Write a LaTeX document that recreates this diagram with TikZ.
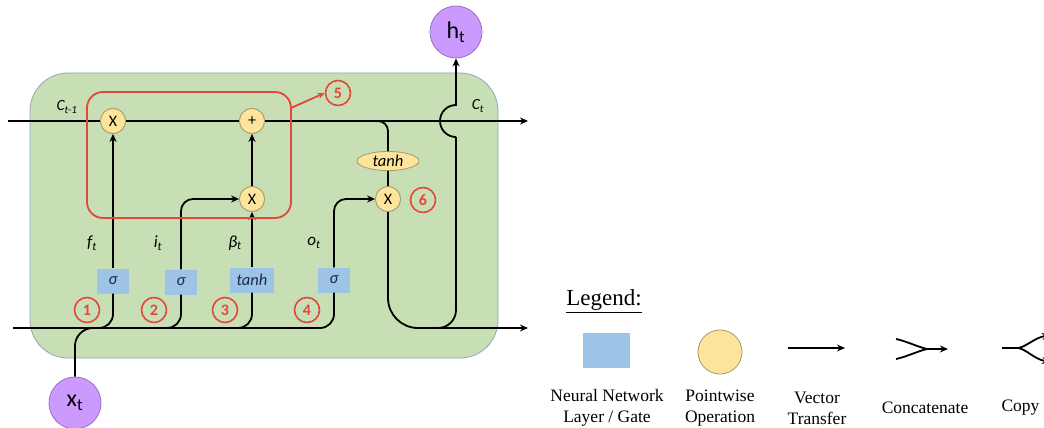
\documentclass[tikz,border=0pt]{standalone}
\usepackage{fontspec}
\setmainfont{Carlito}
\newfontfamily\legfont{Liberation Serif}
\usetikzlibrary{arrows.meta,shapes.geometric}
\definecolor{cellgreen}{HTML}{C8DFB5}
\definecolor{cellborder}{HTML}{8FA6BF}
\definecolor{pwyellow}{HTML}{FDE59B}
\definecolor{pwborder}{HTML}{A8996E}
\definecolor{gateblue}{HTML}{9DC3E6}
\definecolor{navy}{HTML}{1E2A44}
\definecolor{numred}{HTML}{E2483A}
\definecolor{iopurple}{HTML}{CC99FF}
\definecolor{ioborder}{HTML}{9470C4}
\tikzset{
  cellbox/.style={draw=cellborder, fill=cellgreen, line width=0.8pt, rounded corners=38pt, inner sep=0pt},
  pw/.style={circle, draw=pwborder, fill=pwyellow, line width=0.8pt, minimum size=25pt, inner sep=0pt, font=\fontsize{16}{16}\selectfont},
  pwell/.style={ellipse, draw=pwborder, fill=pwyellow, line width=0.8pt, minimum width=62pt, minimum height=19pt, inner sep=0pt, font=\fontsize{16.5}{16.5}\selectfont\itshape},
  gate/.style={rectangle, fill=gateblue, minimum height=25pt, inner sep=0pt, text=navy, font=\fontsize{16.5}{16.5}\selectfont\itshape},
  num/.style={circle, draw=numred, line width=1.6pt, minimum size=25pt, inner sep=0pt, text=numred, font=\fontsize{16}{16}\selectfont\bfseries},
  io/.style={circle, draw=ioborder, fill=iopurple, line width=0.8pt, minimum size=52pt, inner sep=0pt, font=\fontsize{24}{24}\selectfont},
  lbl/.style={font=\fontsize{17}{17}\selectfont\itshape},
  leg/.style={font=\legfont\fontsize{17.5}{21}\selectfont, align=center},
  wire/.style={line width=1.8pt, draw=black},
  redwire/.style={line width=1.8pt, draw=numred},
}
\begin{document}
\begin{tikzpicture}[x=1pt,y=-1pt, >={Stealth[length=8pt,width=7pt]}]
\useasboundingbox (0,0) rectangle (1044,428);
\clip (0,0) rectangle (1044,428);

% cell background
\node[cellbox, minimum width=468pt, minimum height=285pt] (cell) at (264,215.5) {};

% named free ends
\coordinate (cin) at (8,121);
\coordinate (cout) at (528,121);
\coordinate (bin) at (13,328);
\coordinate (bout) at (528,328);
\coordinate (tap) at (370,121);
\coordinate (b1) at (95,328);
\coordinate (b2) at (163,328);
\coordinate (b3) at (234,328);
\coordinate (xb) at (104,328);
\coordinate (ub) at (425,328);
\coordinate (jb) at (456,137);
\coordinate (r5) at (291,108);

% nodes
\node[pw] (m1) at (113,121) {X};
\node[pw] (pl) at (252,121) {+};
\node[pw] (m2) at (252,199) {X};
\node[pw] (m6) at (388,199) {X};
\node[pwell] (th) at (388,161) {tanh};

\node[gate, minimum width=32pt] (g1) at (113,281) {σ};
\node[gate, minimum width=32pt] (g2) at (181,282) {σ};
\node[gate, minimum width=44pt] (g3) at (252,280) {tanh};
\node[gate, minimum width=32pt] (g4) at (334,280) {σ};

\node[io] (ht) at (456,32) {h\textsubscript{t}};
\node[io] (xt) at (75,403) {x\textsubscript{t}};

% wires
\draw[wire,->] (cin) -- (m1) -- (pl) -- (cout);
\draw[wire, rounded corners=10pt] (tap) -| (th.north);
\draw[wire] (th.south) -- (m6.north);
\draw[wire,->] (g1.north) -- (m1.south);
\draw[wire,->, rounded corners=12pt] (g2.north) |- (m2.west);
\draw[wire,->] (g3.north) -- (m2.south);
\draw[wire,->] (m2.north) -- (pl.south);
\draw[wire,->, rounded corners=12pt] (g4.north) |- (m6.west);

\draw[wire, rounded corners=14pt] (bin) -| (g4.south);
\draw[wire, rounded corners=14pt] (g1.south) |- (b1);
\draw[wire, rounded corners=14pt] (g2.south) |- (b2);
\draw[wire, rounded corners=14pt] (g3.south) |- (b3);
\draw[wire, rounded corners=18pt] (xt.north) |- (xb);

\draw[wire,->, rounded corners=30pt] (m6.south) |- (bout);
\draw[wire, rounded corners=18pt] (ub) -| (jb);
\draw[wire,->] (jb) arc[start angle=270, end angle=90, radius=16pt] -- (ht.south);

% redraw nodes on top of wires
\node[pw] at (m1) {X};
\node[pw] at (pl) {+};
\node[pw] at (m2) {X};
\node[pw] at (m6) {X};

% red highlight
\node[draw=numred, line width=1.8pt, rounded corners=16pt, minimum width=204pt, minimum height=126pt, inner sep=0pt] (redbox) at (189,155) {};
\node[num] (n1) at (87,310) {1};
\node[num] (n2) at (154,310) {2};
\node[num] (n3) at (225,310) {3};
\node[num] (n4) at (307,310) {4};
\node[num] (n5) at (338,93) {5};
\node[num] (n6) at (423,200) {6};
\draw[redwire, -{Stealth[length=7pt,width=6pt]}] (r5) -- (n5.west);

% labels
\node[lbl] (lf) at (92,243) {f\textsubscript{t}};
\node[lbl] (li) at (158,243) {i\textsubscript{t}};
\node[lbl] (lb) at (235,243) {β\textsubscript{t}};
\node[lbl] (lo) at (314,243) {o\textsubscript{t}};
\node[lbl, font=\fontsize{15.5}{15.5}\selectfont\itshape] (lc1) at (67,107) {C\textsubscript{t-1}};
\node[lbl, font=\fontsize{15.5}{15.5}\selectfont\itshape] (lc) at (478,106) {C\textsubscript{t}};

% legend
\node[font=\legfont\fontsize{23}{23}\selectfont] (legt) at (604,301) {\underline{Legend:}};
\node[fill=gateblue, minimum width=47pt, minimum height=35pt, inner sep=0pt] (lg1) at (606.5,350.5) {};
\node[circle, draw=pwborder, fill=pwyellow, line width=0.8pt, minimum size=44pt, inner sep=0pt] (lg2) at (720,352) {};
\coordinate (va) at (788,348);
\coordinate (vb) at (845,348);
\draw[wire,->] (va) -- (vb);
\coordinate (ca) at (896,339);
\coordinate (cb) at (896,359);
\coordinate (cm) at (927,349);
\coordinate (cc) at (948,349);
\draw[wire] (ca) .. controls (906,341) and (918,347) .. (cm);
\draw[wire] (cb) .. controls (906,357) and (918,351) .. (cm);
\draw[wire,->] (cm) -- (cc);
\coordinate (pa) at (1002,348);
\coordinate (pm) at (1018,348);
\coordinate (pu) at (1050,335);
\coordinate (pd) at (1050,362);
\draw[wire] (pa) -- (pm);
\draw[wire,->] (pm) .. controls (1026,347) and (1034,338) .. (pu);
\draw[wire,->] (pm) .. controls (1026,349) and (1034,359) .. (pd);

\node[leg] (t1) at (607,408) {Neural Network\\Layer / Gate};
\node[leg] (t2) at (720,408) {Pointwise\\Operation};
\node[leg] (t3) at (817,408) {Vector\\Transfer};
\node[leg] (t4) at (925,408) {Concatenate};
\node[leg, anchor=west] (t5) at (998,408) {Copy};
\end{tikzpicture}
\end{document}
